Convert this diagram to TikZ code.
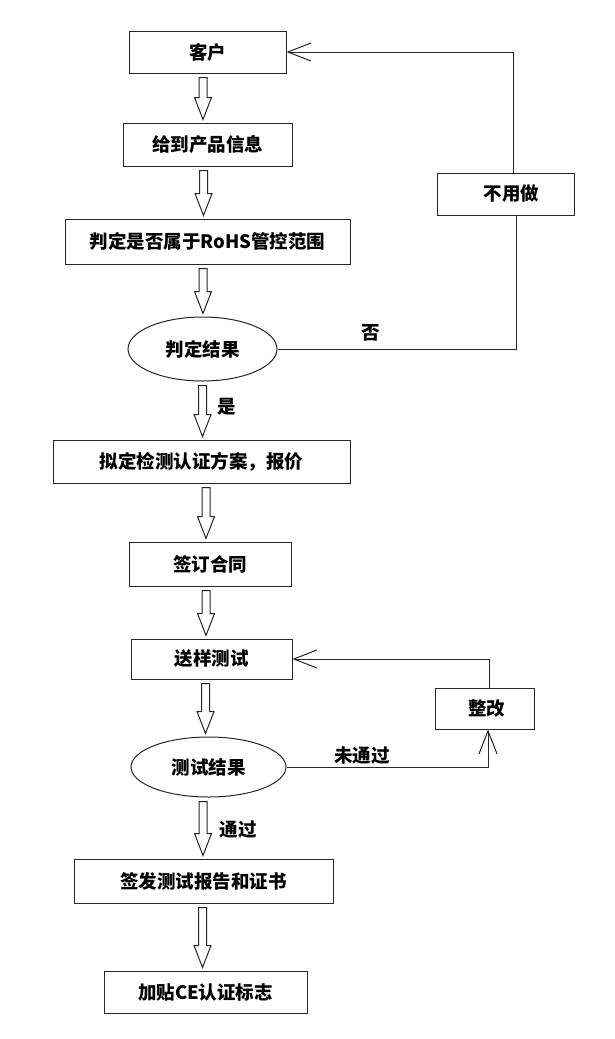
\documentclass[tikz,border=0pt]{standalone}
\usepackage{fontspec}
\newfontfamily\cjk{Noto Sans CJK SC}
\usetikzlibrary{calc,shapes.geometric,arrows.meta}
\tikzset{
  box/.style={draw=black!85, line width=1pt, rectangle, inner sep=0pt, font=\cjk\bfseries\fontsize{18.5}{20}\selectfont},
  oval/.style={draw=black!85, line width=1pt, ellipse, inner sep=0pt, font=\cjk\bfseries\fontsize{18.5}{20}\selectfont},
  lbl/.style={font=\cjk\bfseries\fontsize{18.5}{20}\selectfont, inner sep=0pt},
  conn/.style={draw=black!85, line width=1pt},
  openarrow/.style={conn, -{Straight Barb[length=23pt,width=18pt,line width=1pt]}},
  blockarrow/.style={draw=black!85, line width=1pt, fill=white, line join=miter}
}
% #1 from node, #2 to node, #3 x of the arrow axis
\newcommand\blockarr[3]{\draw[blockarrow] let \p1=(#1.south), \p2=(#2.north) in
  (#3pt-4pt,\y1-4pt) -- (#3pt+4pt,\y1-4pt) -- (#3pt+4pt,\y2+25pt) -- (#3pt+8.5pt,\y2+25pt) --
  (#3pt,\y2+3pt) -- (#3pt-8.5pt,\y2+25pt) -- (#3pt-4pt,\y2+25pt) -- cycle;}
\begin{document}
\begin{tikzpicture}[x=1pt,y=-1pt]
\useasboundingbox[fill=white] (0,0) rectangle (614,1039);
\node[box, minimum width=157pt, minimum height=42pt] (kehu) at (207.5,52) {客户};
\node[box, minimum width=169pt, minimum height=43pt] (xinxi) at (207.5,144.5) {给到产品信息};
\node[box, minimum width=285pt, minimum height=45pt] (rohs) at (207.5,241.5) {判定是否属于RoHS管控范围};
\node[oval, minimum width=149pt, minimum height=64pt] (jg1) at (202.5,349) {判定结果};
\node[box, minimum width=137pt, minimum height=42pt] (buyong) at (505.5,194) {\hspace{12pt}不用做};
\node[box, minimum width=297pt, minimum height=43pt] (niding) at (201.5,461.5) {拟定检测认证方案，报价};
\node[box, minimum width=162pt, minimum height=44pt] (qianding) at (210,564) {签订合同};
\node[box, minimum width=161pt, minimum height=40pt] (songyang) at (211.5,659) {送样测试};
\node[box, minimum width=99pt, minimum height=41pt] (zhenggai) at (484.5,708.5) {\hspace{4pt}整改};
\node[oval, minimum width=155pt, minimum height=60pt] (jg2) at (208.5,767) {测试结果};
\node[box, minimum width=259pt, minimum height=44pt] (qianfa) at (203.5,881) {签发测试报告和证书};
\node[box, minimum width=203pt, minimum height=42pt] (jiatie) at (205.5,992) {加贴CE认证标志};

\blockarr{kehu}{xinxi}{203}
\blockarr{xinxi}{rohs}{203.5}
\blockarr{rohs}{jg1}{203}
\blockarr{jg1}{niding}{202.5}
\blockarr{niding}{qianding}{206}
\blockarr{qianding}{songyang}{206}
\blockarr{songyang}{jg2}{205.5}
\blockarr{jg2}{qianfa}{203}
\blockarr{qianfa}{jiatie}{202.5}

\draw[openarrow] ($(buyong.north)+(7.5,0)$) |- (kehu.east);
\draw[conn] (jg1.east) -| ($(buyong.south)+(10.5,0)$);
\draw[openarrow] (jg2.east) -| ($(zhenggai.south)+(3.5,0)$);
\draw[openarrow] ($(zhenggai.north)+(4.5,0)$) |- (songyang.east);

\node[lbl] (no) at (371,333) {否};
\node[lbl] (yes) at (227,407) {是};
\node[lbl] (fail) at (362,755) {未通过};
\node[lbl] (pass) at (238,830) {通过};
\end{tikzpicture}
\end{document}
